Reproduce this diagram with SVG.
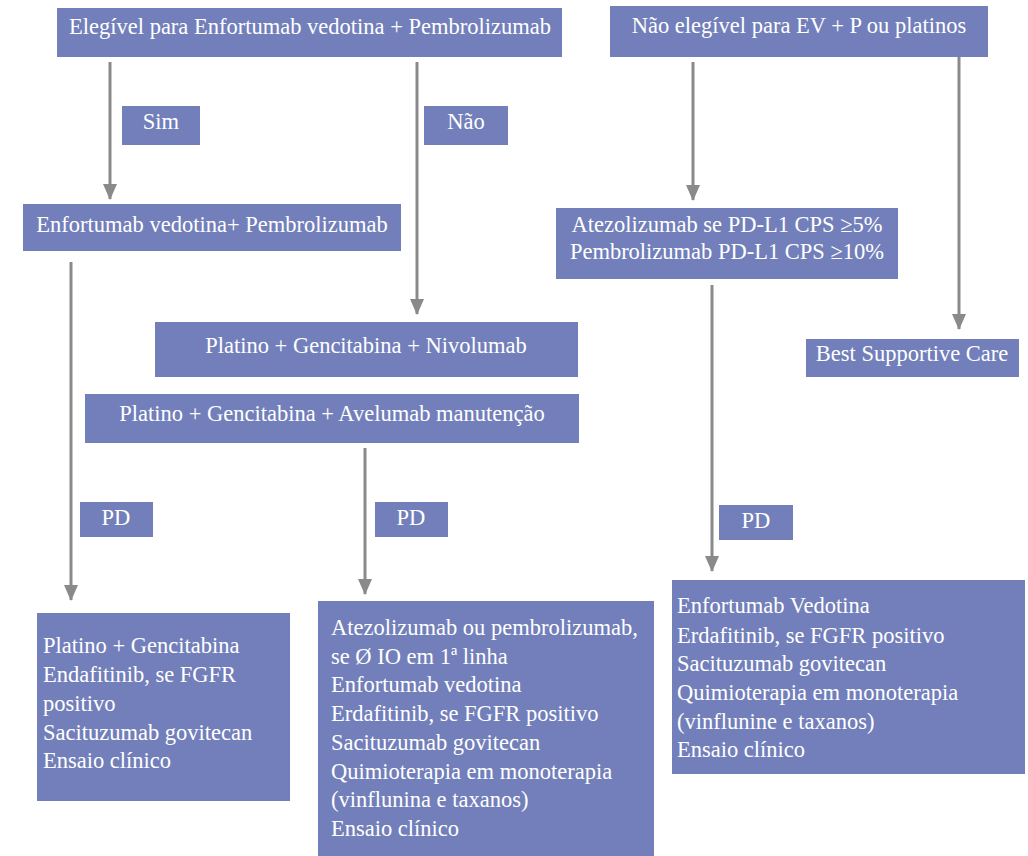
<svg xmlns="http://www.w3.org/2000/svg" width="1028" height="856" viewBox="0 0 1028 856">
  <style>
    .box { fill: #727fba; }
    .t { font-family: "Liberation Serif", "Times New Roman", "DejaVu Serif", serif; font-size: 22.5px; fill: #ffffff; }
    .c { text-anchor: middle; }
    .edge { stroke: #8a8a8a; stroke-width: 3; fill: none; marker-end: url(#arrow); }
  </style>
  <defs>
    <!-- downward-pointing arrowhead, aligned with the line direction -->
    <marker id="arrow" markerUnits="userSpaceOnUse" markerWidth="16" markerHeight="14" refX="15" refY="7" orient="auto" viewBox="0 0 16 14">
      <path d="M0,0 L16,7 L0,14 Z" fill="#8a8a8a"/>
    </marker>
  </defs>
  <rect width="1028" height="856" fill="#ffffff"/>

  <!-- connectors -->
  <g id="connectors">
    <line class="edge" x1="110" y1="62" x2="110" y2="199"/>
    <line class="edge" x1="417" y1="62" x2="417" y2="314"/>
    <line class="edge" x1="693" y1="62" x2="693" y2="200"/>
    <line class="edge" x1="959" y1="57" x2="959" y2="329"/>
    <line class="edge" x1="71" y1="262" x2="71" y2="600"/>
    <line class="edge" x1="365" y1="448" x2="365" y2="594"/>
    <line class="edge" x1="712" y1="285" x2="712" y2="571"/>
  </g>

  <g id="n-eligible">
    <rect class="box" x="57" y="8" width="505" height="49"/>
    <text class="t c" x="310" y="34">Elegível para Enfortumab vedotina + Pembrolizumab</text>
  </g>
  <g id="n-not-eligible">
    <rect class="box" x="610" y="6" width="378" height="51"/>
    <text class="t c" x="799" y="33">Não elegível para EV + P ou platinos</text>
  </g>
  <g id="lbl-sim">
    <rect class="box" x="122" y="106" width="78" height="39"/>
    <text class="t c" x="161" y="129">Sim</text>
  </g>
  <g id="lbl-nao">
    <rect class="box" x="424" y="106" width="84" height="39"/>
    <text class="t c" x="466" y="129">Não</text>
  </g>
  <g id="n-ev-pembro">
    <rect class="box" x="23" y="204" width="378" height="47"/>
    <text class="t c" x="212" y="232">Enfortumab vedotina+ Pembrolizumab</text>
  </g>
  <g id="n-io-mono">
    <rect class="box" x="556" y="208" width="342" height="71"/>
    <text class="t c" x="727" y="232">Atezolizumab se PD-L1 CPS ≥5%</text>
    <text class="t c" x="727" y="259">Pembrolizumab PD-L1 CPS ≥10%</text>
  </g>
  <g id="n-bsc">
    <rect class="box" x="806" y="339" width="213" height="38"/>
    <text class="t c" x="912" y="361">Best Supportive Care</text>
  </g>
  <g id="n-nivo">
    <rect class="box" x="155" y="322" width="423" height="55"/>
    <text class="t c" x="366" y="353">Platino + Gencitabina + Nivolumab</text>
  </g>
  <g id="n-avelumab">
    <rect class="box" x="85" y="394" width="494" height="49"/>
    <text class="t c" x="332" y="421">Platino + Gencitabina + Avelumab manutenção</text>
  </g>
  <g id="lbl-pd-1">
    <rect class="box" x="80" y="502" width="73" height="35"/>
    <text class="t c" x="116" y="525">PD</text>
  </g>
  <g id="lbl-pd-2">
    <rect class="box" x="375" y="502" width="73" height="35"/>
    <text class="t c" x="411" y="525">PD</text>
  </g>
  <g id="lbl-pd-3">
    <rect class="box" x="719" y="505" width="74" height="35"/>
    <text class="t c" x="756" y="528">PD</text>
  </g>
  <g id="n-second-line-a">
    <rect class="box" x="37" y="613" width="253" height="188"/>
    <text class="t" x="43" y="653">Platino + Gencitabina</text>
    <text class="t" x="43" y="682">Endafitinib, se FGFR</text>
    <text class="t" x="43" y="711">positivo</text>
    <text class="t" x="43" y="740">Sacituzumab govitecan</text>
    <text class="t" x="43" y="768">Ensaio clínico</text>
  </g>
  <g id="n-second-line-b">
    <rect class="box" x="318" y="601" width="336" height="255"/>
    <text class="t" x="331" y="635">Atezolizumab ou pembrolizumab,</text>
    <text class="t" x="331" y="664">se Ø IO em 1ª linha</text>
    <text class="t" x="331" y="692">Enfortumab vedotina</text>
    <text class="t" x="331" y="721">Erdafitinib, se FGFR positivo</text>
    <text class="t" x="331" y="750">Sacituzumab govitecan</text>
    <text class="t" x="331" y="779">Quimioterapia em monoterapia</text>
    <text class="t" x="331" y="807">(vinflunina e taxanos)</text>
    <text class="t" x="331" y="836">Ensaio clínico</text>
  </g>
  <g id="n-second-line-c">
    <rect class="box" x="672" y="580" width="353" height="194"/>
    <text class="t" x="677" y="613">Enfortumab Vedotina</text>
    <text class="t" x="677" y="643">Erdafitinib, se FGFR positivo</text>
    <text class="t" x="677" y="671">Sacituzumab govitecan</text>
    <text class="t" x="677" y="700">Quimioterapia em monoterapia</text>
    <text class="t" x="677" y="729">(vinflunine e taxanos)</text>
    <text class="t" x="677" y="757">Ensaio clínico</text>
  </g>
</svg>
